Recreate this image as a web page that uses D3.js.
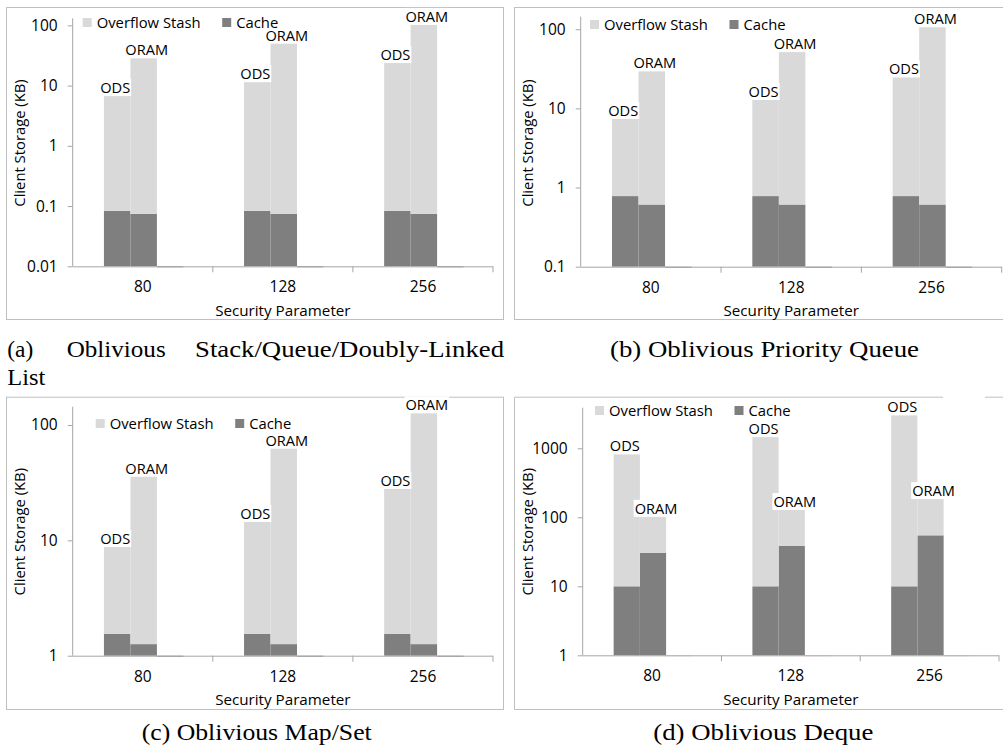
<!DOCTYPE html>
<html><head><meta charset="utf-8">
<script src="https://cdn.jsdelivr.net/npm/d3@7"></script>
<style>body{margin:0;background:#fff}svg{display:block}</style>
</head><body>
<svg id="c" width="1003" height="754"></svg>
<script>
// ---------------- DATA ----------------
const categories = ["80", "128", "256"];
const barNames = ["ODS", "ORAM"];
const legendNames = ["Overflow Stash", "Cache"];
const xTitle = "Security Parameter";
const yTitle = "Client Storage (KB)";

// (a) Oblivious Stack/Queue/Doubly-Linked List
const a_cacheODS  = [0.083, 0.083, 0.083];
const a_stashODS  = [6.9, 11.8, 24.6];
const a_cacheORAM = [0.074, 0.074, 0.074];
const a_stashORAM = [30.3, 53.2, 109];
const a_ticks = [0.01, 0.1, 1, 10, 100];
const a_tickLabels = ["0.01", "0.1", "1", "10", "100"];
const a_domain = [0.01, 131];

// (b) Oblivious Priority Queue
const b_cacheODS  = [0.78, 0.78, 0.78];
const b_stashODS  = [6.8, 12.4, 24.6];
const b_cacheORAM = [0.61, 0.61, 0.61];
const b_stashORAM = [30.3, 53.6, 111];
const b_ticks = [0.1, 1, 10, 100];
const b_tickLabels = ["0.1", "1", "10", "100"];
const b_domain = [0.1, 144];

// (c) Oblivious Map/Set
const c_cacheODS  = [1.55, 1.55, 1.55];
const c_stashODS  = [7.4, 13.2, 27.0];
const c_cacheORAM = [1.26, 1.26, 1.26];
const c_stashORAM = [35.6, 63.3, 129.4];
const c_ticks = [1, 10, 100];
const c_tickLabels = ["1", "10", "100"];
const c_domain = [1, 144];

// (d) Oblivious Deque
const d_cacheODS  = [10, 10, 10];
const d_stashODS  = [837, 1497, 3100];
const d_cacheORAM = [30.7, 38.4, 54.8];
const d_stashORAM = [77, 97, 140];
const d_ticks = [1, 10, 100, 1000];
const d_tickLabels = ["1", "10", "100", "1000"];
const d_domain = [1, 3876];

const captionA1 = ["(a)", "Oblivious", "Stack/Queue/Doubly-Linked"];
const captionA2 = "List";
const captionB = "(b) Oblivious Priority Queue";
const captionC = "(c) Oblivious Map/Set";
const captionD = "(d) Oblivious Deque";

// ---------------- STYLE / LAYOUT ----------------
const COL_STASH = "#d9d9d9", COL_CACHE = "#7f7f7f";
const COL_AXIS = "#a6a6a6", COL_FRAME = "#bfbfbf";
const FONT = "'Open Sans', sans-serif";
const SERIF = "'Liberation Serif', 'Times New Roman', serif";

const panels = [
  {cacheODS:a_cacheODS, stashODS:a_stashODS, cacheORAM:a_cacheORAM, stashORAM:a_stashORAM,
   ticks:a_ticks, tickLabels:a_tickLabels, domain:a_domain,
   frame:[6, 7, 503, 319], x0:72.7, x1:493, yTop:18.3, yBot:266.3,
   legend:[82.7, 18], ytitle:[20, 143], lightPad:false},
  {cacheODS:b_cacheODS, stashODS:b_stashODS, cacheORAM:b_cacheORAM, stashORAM:b_stashORAM,
   ticks:b_ticks, tickLabels:b_tickLabels, domain:b_domain,
   frame:[514, 7, 1010, 319], x0:580.7, x1:1001.7, yTop:16.7, yBot:266.7,
   legend:[590, 20], ytitle:[528.3, 143], lightPad:false},
  {cacheODS:c_cacheODS, stashODS:c_stashODS, cacheORAM:c_cacheORAM, stashORAM:c_stashORAM,
   ticks:c_ticks, tickLabels:c_tickLabels, domain:c_domain,
   frame:[6, 396.7, 503, 709], x0:72.7, x1:493, yTop:406.7, yBot:655.7,
   legend:[95.7, 419], ytitle:[20, 531.7], lightPad:false},
  {cacheODS:d_cacheODS, stashODS:d_stashODS, cacheORAM:d_cacheORAM, stashORAM:d_stashORAM,
   ticks:d_ticks, tickLabels:d_tickLabels, domain:d_domain,
   frame:[514, 396.7, 1010, 709], x0:582.7, x1:999, yTop:407.7, yBot:655.3,
   legend:[595, 406], ytitle:[528.3, 531.7], lightPad:true, topGap:[943, 985]}
];

const svg = d3.select("#c");

function drawPanel(p) {
  const g = svg.append("g");
  const [fx0, fy0, fx1, fy1] = p.frame;
  // frame
  if (p.topGap) {
    g.append("path")
      .attr("d", `M${p.topGap[0]},${fy0+0.5} H${fx0+0.5} V${fy1+0.5} H${fx1} M${p.topGap[1]},${fy0+0.5} H${fx1}`)
      .attr("fill", "none").attr("stroke", COL_FRAME);
  } else {
    g.append("rect").attr("x", fx0 + 0.5).attr("y", fy0 + 0.5)
      .attr("width", fx1 - fx0).attr("height", fy1 - fy0)
      .attr("fill", "none").attr("stroke", COL_FRAME);
  }

  const x = d3.scaleBand().domain(categories).range([p.x0, p.x1]);
  const bw = x.bandwidth();
  const xi = d3.scaleBand().domain(["ODS", "ORAM", "pad"]).range([0.223 * bw, 0.790 * bw]);
  const y = d3.scaleLog().domain(p.domain).range([p.yBot, p.yTop]);

  const rows = [];
  categories.forEach((c, i) => {
    rows.push({cat:c, bar:"ODS", "Cache":p.cacheODS[i], "Overflow Stash":p.stashODS[i]});
    rows.push({cat:c, bar:"ORAM", "Cache":p.cacheORAM[i], "Overflow Stash":p.stashORAM[i]});
  });
  const stacked = d3.stack().keys(["Cache", "Overflow Stash"])(rows);
  const colorOf = {"Cache":COL_CACHE, "Overflow Stash":COL_STASH};

  stacked.forEach(layer => {
    g.append("g").selectAll("rect").data(layer).join("rect")
      .attr("x", d => x(d.data.cat) + xi(d.data.bar))
      .attr("width", xi.bandwidth())
      .attr("y", d => y(d[1]))
      .attr("height", d => y(Math.max(d[0], p.domain[0])) - y(d[1]))
      .attr("fill", colorOf[layer.key]);
  });

  // zero-height third slot marks along the axis
  g.append("g").selectAll("line").data(categories).join("line")
    .attr("x1", c => x(c) + xi("pad")).attr("x2", c => x(c) + xi("pad") + xi.bandwidth())
    .attr("y1", p.yBot + 0.5).attr("y2", p.yBot + 0.5)
    .attr("stroke", p.lightPad ? "#e6e6e6" : "#8c8c8c").attr("stroke-width", 1);

  // axes
  const yAxis = d3.axisLeft(y).tickValues(p.ticks)
    .tickFormat((d, i) => p.tickLabels[i]).tickSize(5).tickSizeOuter(0).tickPadding(10);
  const ya = g.append("g").attr("transform", `translate(${p.x0},0)`).call(yAxis);
  ya.select(".domain").remove();
  ya.append("line").attr("x1", 0).attr("x2", 0).attr("y1", p.yTop).attr("y2", p.yBot)
    .attr("stroke", COL_AXIS);
  ya.selectAll(".tick line").attr("stroke", COL_AXIS);
  ya.selectAll(".tick text").attr("font-family", FONT).attr("font-size", 15.5).attr("fill", "#000");

  const xAxis = d3.axisBottom(x).tickSize(0).tickPadding(15);
  const xa = g.append("g").attr("transform", `translate(0,${p.yBot})`).call(xAxis);
  xa.select(".domain").remove();
  xa.append("line").attr("x1", p.x0).attr("x2", p.x1).attr("y1", 0.5).attr("y2", 0.5)
    .attr("stroke", COL_AXIS);
  xa.selectAll(".tick text").attr("font-family", FONT).attr("font-size", 15.5).attr("fill", "#000");
  xa.selectAll(".bnd").data(categories).join("line")
    .attr("x1", c => x(c) + bw).attr("x2", c => x(c) + bw)
    .attr("y1", 0).attr("y2", 6).attr("stroke", COL_AXIS);

  // axis titles
  g.append("text").attr("x", (p.x0 + p.x1) / 2).attr("y", p.yBot + 44)
    .attr("text-anchor", "middle").attr("dy", "0.35em")
    .attr("font-family", FONT).attr("font-size", 15.2).text(xTitle);
  g.append("text").attr("transform", `translate(${p.ytitle[0]},${p.ytitle[1]}) rotate(-90)`)
    .attr("text-anchor", "middle").attr("dy", "0.35em")
    .attr("font-family", FONT).attr("font-size", 14.8).text(yTitle);

  // bar labels with white background
  const lab = g.append("g");
  rows.forEach(r => {
    const total = r["Cache"] + r["Overflow Stash"];
    const cx = x(r.cat) + xi(r.bar) + xi.bandwidth() / 2 + (r.bar === "ODS" ? -2 : 3);
    const cy = y(total) - (r.bar === "ODS" ? 7 : 6.3);
    const bg = lab.append("rect").attr("fill", "#fff");
    const t = lab.append("text").attr("x", cx).attr("y", cy).attr("dy", "0.35em")
      .attr("text-anchor", "middle").attr("font-family", FONT).attr("font-size", 14.6)
      .attr("fill", "#000").text(r.bar);
    const bb = t.node().getBBox();
    bg.attr("x", bb.x - 1).attr("y", bb.y + 2).attr("width", bb.width + 2).attr("height", bb.height - 3);
  });

  // legend
  const lg = g.append("g").attr("transform", `translate(${p.legend[0]},${p.legend[1]})`);
  legendNames.forEach((n, i) => {
    const ox = i * 139.5;
    lg.append("rect").attr("x", ox).attr("y", 0).attr("width", 9).attr("height", 9)
      .attr("fill", n === "Cache" ? COL_CACHE : COL_STASH);
    lg.append("text").attr("x", ox + 14).attr("y", 5).attr("dy", "0.35em")
      .attr("font-family", FONT).attr("font-size", 14.8).attr("fill", "#000").text(n);
  });
}

panels.forEach(drawPanel);

// captions
const cap = svg.append("g").attr("font-family", SERIF).attr("font-size", 24).attr("fill", "#000");
const a1x = [7.3, 66.7, 195], a1w = [26, 99, 309];
captionA1.forEach((w, i) => {
  cap.append("text").attr("x", a1x[i]).attr("y", 357.3).attr("textLength", a1w[i])
    .attr("lengthAdjust", "spacingAndGlyphs").text(w);
});
cap.append("text").attr("x", 7.3).attr("y", 385).attr("textLength", 38)
  .attr("lengthAdjust", "spacingAndGlyphs").text(captionA2);
cap.append("text").attr("x", 610).attr("y", 357.3).attr("textLength", 309)
  .attr("lengthAdjust", "spacingAndGlyphs").text(captionB);
cap.append("text").attr("x", 141.7).attr("y", 740).attr("textLength", 230)
  .attr("lengthAdjust", "spacingAndGlyphs").text(captionC);
cap.append("text").attr("x", 653.3).attr("y", 740).attr("textLength", 220)
  .attr("lengthAdjust", "spacingAndGlyphs").text(captionD);
</script>
</body></html>
